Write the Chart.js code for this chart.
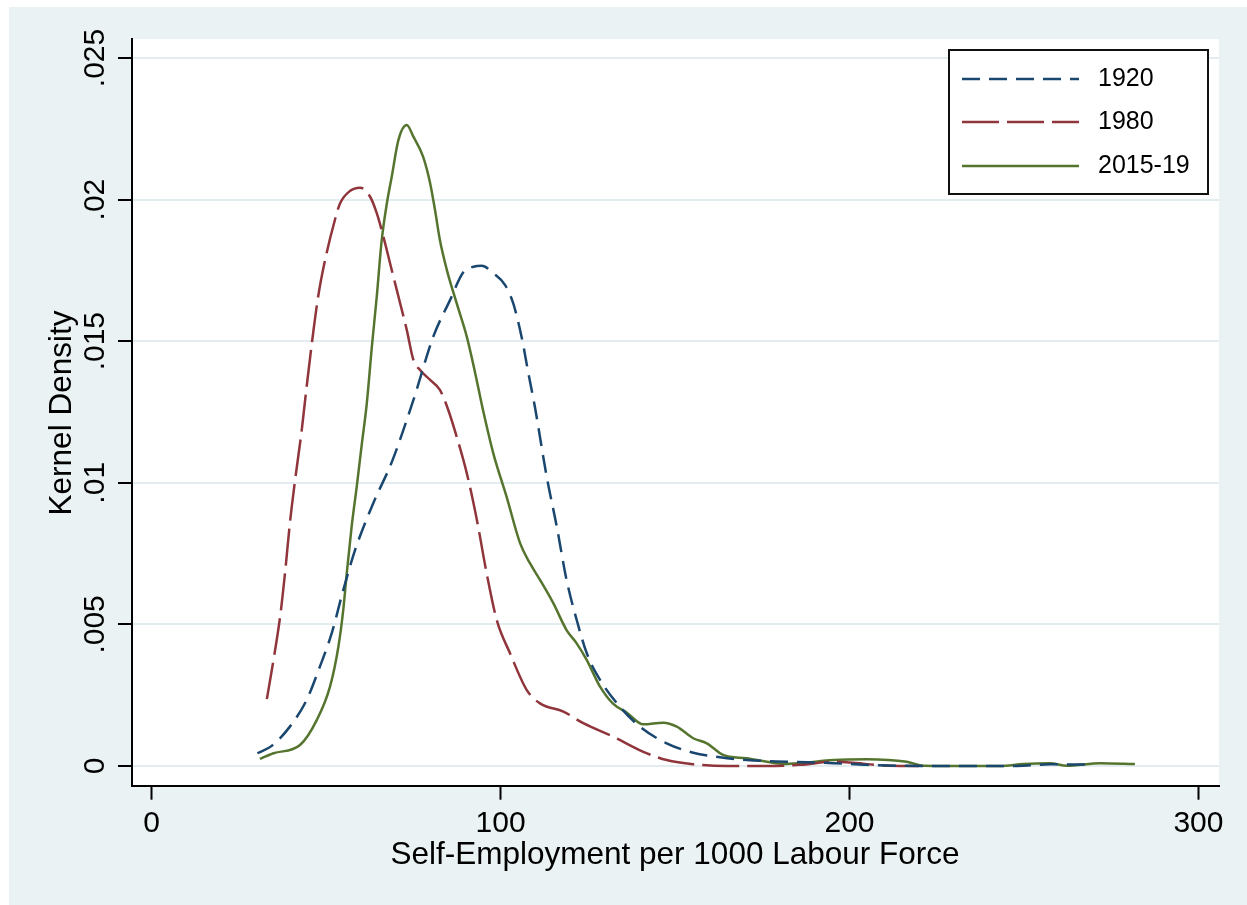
<!DOCTYPE html>
<html><head><meta charset="utf-8">
<script src="https://cdn.jsdelivr.net/npm/chart.js@4.4.0/dist/chart.umd.min.js"></script>
<style>html,body{margin:0;padding:0;background:#fff;} #wrap{width:1247px;height:905px;position:relative;}</style>
</head><body><div id="wrap"><canvas id="c"></canvas></div>
<script>
const seriesNames = ['1920', '1980', '2015-19'];

const x1920 = [30.3,34.4,39.6,44.4,48.2,51.6,54.9,58.3,63.5,68.8,75.0,80.7,85.5,89.3,92.2,94.6,97.9,101.3,103.6,106.0,107.9,109.9,113.2,116.1,118.9,121.8,124.7,128.5,134.2,139.9,147.6,155.2,162.9,170.5,182.0,195.3,204.9,214.5,224,248,257.5,267.5];
const d1920 = [0.00045,0.00071,0.00139,0.00233,0.00351,0.00469,0.00621,0.00763,0.00928,0.01073,0.01292,0.01516,0.01645,0.01743,0.01763,0.01766,0.01740,0.01698,0.01634,0.01516,0.01391,0.01263,0.01022,0.00845,0.00657,0.00516,0.00398,0.00304,0.00209,0.00139,0.00080,0.00047,0.00031,0.00021,0.00015,0.00010,0.00004,0.00001,0,0,0.00006,0.00005];

const x1980 = [33.0,34.9,36.8,38.2,39.6,41.1,43.0,44.4,45.9,47.7,49.7,52.5,54.0,56.8,59.7,62.6,64.5,66.4,68.8,71.2,73.1,75.0,76.9,79.8,82.6,85.0,87.4,90.3,93.2,96.0,98.9,102.7,107.5,111.3,118.0,123.7,132.3,140.9,147.6,155.2,164.8,176.3,185.8,195.4,200.1,210,220];
const d1980 = [0.00236,0.00374,0.00527,0.00680,0.00857,0.01010,0.01186,0.01339,0.01493,0.01657,0.01787,0.01928,0.01987,0.02030,0.02042,0.02010,0.01952,0.01869,0.01751,0.01634,0.01540,0.01434,0.01398,0.01363,0.01328,0.01257,0.01163,0.01034,0.00869,0.00680,0.00515,0.00398,0.00268,0.00221,0.00192,0.00151,0.00103,0.00050,0.00021,0.00006,0,0,0.00004,0.00015,0.00012,0.00002,0];

const x2015 = [31.0,34.9,42.5,47.3,51.1,53.5,54.9,55.9,57.3,58.8,60.2,61.6,63.1,64.5,65.9,67.4,68.8,70.7,73.1,75.0,77.8,79.8,81.2,82.6,84.6,87.4,90.3,92.7,95.0,97.9,101.7,105.6,108.4,111.3,115.1,118.9,121.8,124.7,128.5,132.3,136.1,140.9,146.6,150.5,155.2,159.1,163.8,170.5,176.3,181.0,185.8,195.4,204.9,216.4,221.2,228.8,243.1,249.8,257.5,262.3,271.9,281.8];
const d2015 = [0.00025,0.00045,0.00074,0.00162,0.00280,0.00421,0.00551,0.00680,0.00845,0.00990,0.01135,0.01275,0.01481,0.01657,0.01854,0.01987,0.02081,0.02210,0.02263,0.02222,0.02151,0.02058,0.01963,0.01857,0.01751,0.01634,0.01516,0.01388,0.01254,0.01104,0.00951,0.00786,0.00716,0.00657,0.00575,0.00480,0.00433,0.00374,0.00280,0.00219,0.00189,0.00147,0.00153,0.00139,0.00098,0.00080,0.00039,0.00027,0.00015,0.00007,0.00010,0.00021,0.00024,0.00015,0.00001,0,0,0.00007,0.00010,0.00001,0.00010,0.00007];

const xTicks = [0, 100, 200, 300];
const xTickLabels = ['0', '100', '200', '300'];
const yTicks = [0, 0.005, 0.01, 0.015, 0.02, 0.025];
const yTickLabels = ['0', '.005', '.01', '.015', '.02', '.025'];
const xTitle = 'Self-Employment per 1000 Labour Force';
const yTitle = 'Kernel Density';

const colors = ['#1a476f', '#90353b', '#55752f'];
const dashes = [[18, 9], [37, 8], []];
const FONT = '"Liberation Sans", Arial, sans-serif';

const toPts = (xs, ys) => xs.map((x, i) => ({x: x, y: ys[i]}));
const seriesData = [toPts(x1920, d1920), toPts(x1980, d1980), toPts(x2015, d2015)];

const decor = {
  id: 'decor',
  beforeDraw(chart) {
    const ctx = chart.ctx, a = chart.chartArea;
    ctx.save();
    ctx.fillStyle = '#ffffff';
    ctx.fillRect(0, 0, chart.width, chart.height);
    ctx.fillStyle = '#eaf2f3';
    ctx.fillRect(9, 7, chart.width - 9, chart.height - 7);
    ctx.fillStyle = '#ffffff';
    ctx.fillRect(a.left, a.top, a.right - a.left, a.bottom - a.top);
    ctx.restore();
  },
  afterDraw(chart) {
    const ctx = chart.ctx;
    const xs = chart.scales.x, ys = chart.scales.y;
    ctx.save();
    ctx.fillStyle = '#000';
    ctx.font = '30px ' + FONT;
    ctx.textAlign = 'center';
    ctx.textBaseline = 'middle';
    yTicks.forEach((v, i) => {
      ctx.save();
      ctx.translate(96, ys.getPixelForValue(v));
      ctx.rotate(-Math.PI / 2);
      ctx.fillText(yTickLabels[i], 0, 0);
      ctx.restore();
    });
    xTicks.forEach((v, i) => {
      ctx.fillText(xTickLabels[i], xs.getPixelForValue(v), 824);
    });
    ctx.font = '31.5px ' + FONT;
    ctx.fillText(xTitle, 675, 855);
    ctx.save();
    ctx.translate(62, 413);
    ctx.rotate(-Math.PI / 2);
    ctx.fillText(yTitle, 0, 0);
    ctx.restore();
    const bx = 949, by = 50, bw = 259, bh = 144;
    ctx.fillStyle = '#fff';
    ctx.fillRect(bx, by, bw, bh);
    ctx.strokeStyle = '#111';
    ctx.lineWidth = 2;
    ctx.strokeRect(bx, by, bw, bh);
    const rows = [79, 122, 166];
    seriesNames.forEach((n, i) => {
      ctx.beginPath();
      ctx.setLineDash(dashes[i]);
      ctx.strokeStyle = colors[i];
      ctx.lineWidth = 2.5;
      ctx.moveTo(962, rows[i]);
      ctx.lineTo(1079, rows[i]);
      ctx.stroke();
      ctx.setLineDash([]);
      ctx.fillStyle = '#000';
      ctx.font = '25px ' + FONT;
      ctx.textAlign = 'left';
      ctx.textBaseline = 'middle';
      ctx.fillText(n, 1098, rows[i]);
    });
    ctx.restore();
  }
};

new Chart(document.getElementById('c'), {
  type: 'line',
  data: {
    datasets: seriesNames.map((n, i) => ({
      label: n,
      data: seriesData[i],
      borderColor: colors[i],
      borderDash: dashes[i],
      borderWidth: 2.5,
      pointRadius: 0,
      fill: false,
      cubicInterpolationMode: 'monotone',
      tension: 0.4
    }))
  },
  options: {
    responsive: true,
    maintainAspectRatio: false,
    animation: false,
    events: [],
    layout: {padding: {left: 0, top: 39, right: 28, bottom: 0}},
    plugins: {legend: {display: false}, tooltip: {enabled: false}},
    scales: {
      x: {
        type: 'linear',
        min: -5.65, max: 305.9,
        ticks: {display: false},
        grid: {display: true, drawOnChartArea: false, drawTicks: true, tickLength: 14, tickColor: '#000', tickWidth: 2},
        border: {display: true, color: '#000', width: 2},
        afterBuildTicks: s => { s.ticks = xTicks.map(v => ({value: v})); },
        afterFit: s => { s.height = 119.3; }
      },
      y: {
        type: 'linear',
        min: -0.000696, max: 0.02567,
        ticks: {display: false},
        grid: {display: true, drawOnChartArea: true, color: '#e3edf0', lineWidth: 2, drawTicks: true, tickLength: 14, tickColor: '#000', tickWidth: 2},
        border: {display: true, color: '#000', width: 2},
        afterBuildTicks: s => { s.ticks = yTicks.map(v => ({value: v})); },
        afterFit: s => { s.width = 132; }
      }
    }
  },
  plugins: [decor]
});
</script>
</body></html>
